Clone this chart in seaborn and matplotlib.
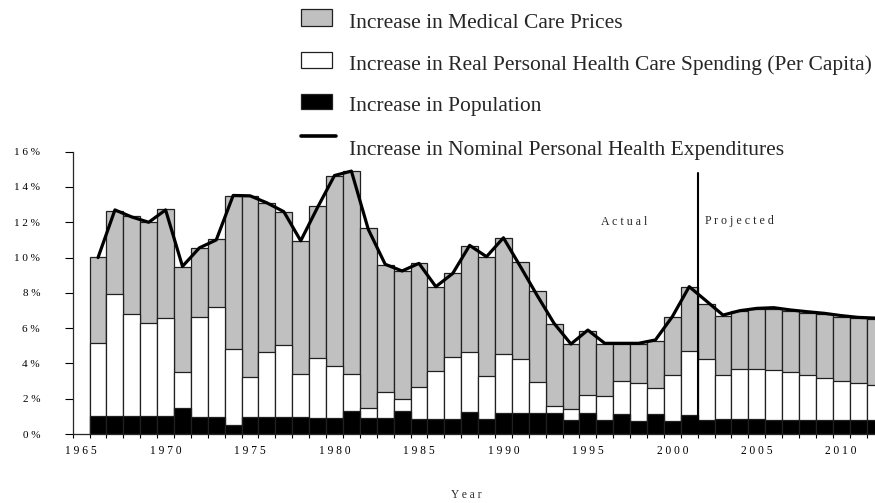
import matplotlib
matplotlib.use("Agg")
import matplotlib.pyplot as plt
import pandas as pd
import seaborn as sns
from matplotlib.patches import Rectangle
from matplotlib.lines import Line2D

years = list(range(1966, 2013))
population = [1.02, 1.02, 1.00, 1.00, 1.00, 1.45, 0.94, 0.94, 0.51, 0.94,
              0.94, 0.94, 0.94, 0.89, 0.89, 1.32, 0.89, 0.89, 1.30, 0.83,
              0.83, 0.83, 1.23, 0.83, 1.21, 1.17, 1.17, 1.17, 0.79, 1.17,
              0.79, 1.11, 0.76, 1.11, 0.76, 1.08, 0.79, 0.85, 0.85, 0.85,
              0.79, 0.79, 0.79, 0.79, 0.77, 0.77, 0.77]
real_per_capita = [4.12, 6.89, 5.80, 5.31, 5.59, 2.08, 5.71, 6.27, 4.29, 2.27,
                   3.72, 4.10, 2.44, 3.40, 2.96, 2.06, 0.60, 1.47, 0.68, 1.85,
                   2.76, 3.55, 3.40, 2.47, 3.30, 3.10, 1.80, 0.44, 0.61, 1.04,
                   1.36, 1.91, 2.15, 1.52, 2.58, 3.64, 3.46, 2.47, 2.81, 2.81,
                   2.84, 2.72, 2.57, 2.40, 2.21, 2.10, 2.03]
prices = [4.91, 4.74, 5.55, 5.72, 6.14, 5.95, 3.87, 3.82, 8.68, 10.27,
          8.44, 7.54, 7.55, 8.65, 10.77, 11.54, 10.20, 7.23, 7.26, 6.99,
          4.74, 4.76, 6.02, 6.75, 6.58, 5.49, 5.13, 4.62, 3.70, 3.64,
          2.95, 2.08, 2.19, 2.66, 3.27, 3.63, 3.12, 3.38, 3.33, 3.42,
          3.45, 3.48, 3.51, 3.59, 3.67, 3.68, 3.72]
nominal = [10.0, 12.7, 12.3, 12.0, 12.7, 9.5, 10.55, 11.0, 13.52, 13.5,
           13.1, 12.6, 10.95, 12.85, 14.65, 14.9, 11.6, 9.62, 9.24, 9.67,
           8.35, 9.1, 10.69, 10.05, 11.12, 9.5, 7.85, 6.27, 5.1, 5.89,
           5.14, 5.14, 5.14, 5.33, 6.65, 8.35, 7.55, 6.74, 6.99, 7.12,
           7.16, 7.03, 6.93, 6.84, 6.71, 6.61, 6.57]

y_ticks = list(range(0, 17, 2))
x_label_years = list(range(1965, 2011, 5))
legend_labels = ["Increase in Medical Care Prices",
                 "Increase in Real Personal Health Care Spending (Per Capita)",
                 "Increase in Population",
                 "Increase in Nominal Personal Health Expenditures"]

sns.set_style("ticks")
plt.rcParams["font.family"] = ["Liberation Serif", "DejaVu Serif"]

df = pd.DataFrame({"year": years, "pop": population, "real": real_per_capita,
                   "price": prices, "nominal": nominal})
df["top_real"] = df["pop"] + df["real"]
df["top_price"] = df["top_real"] + df["price"]

W, H = 875, 503
fig = plt.figure(figsize=(W / 100, H / 100), dpi=100)
ax = fig.add_axes([72.7 / W, (H - 434) / H, (W - 72.7) / W, (434 - 151.7) / H])

for col, color in [("top_price", "#c0c0c0"), ("top_real", "white"), ("pop", "black")]:
    sns.barplot(data=df, x="year", y=col, native_scale=True, width=1.0, color=color,
                saturation=1, edgecolor="#202020", linewidth=0.9, errorbar=None, ax=ax)
sns.lineplot(data=df, x="year", y="nominal", color="black", linewidth=2.3, ax=ax)

# Actual / Projected divider
ax.plot([2001.5, 2001.5], [0, 14.8], color="black", lw=1.5)
ax.text(1997.17, 12.0, " ".join("Actual"), ha="center", va="center", fontsize=8.6)
ax.text(2004.0, 12.1, " ".join("Projected"), ha="center", va="center", fontsize=8.6)

ax.set_xlim(1964.5, 2012.0)
ax.set_ylim(0, 16)
sns.despine(ax=ax)
ax.spines["left"].set_linewidth(0.9)
ax.spines["bottom"].set_linewidth(0.9)

# tick marks at category boundaries, labels at category centres
ax.set_xticks([y + 0.5 for y in range(1964, 2012)])
ax.set_xticklabels([])
ax.set_xticks(x_label_years, minor=True)
ax.set_xticklabels([" ".join(str(y)) for y in x_label_years], minor=True, fontsize=8.3)
ax.tick_params(axis="x", which="major", direction="out", length=3.2, width=0.8, colors="black")
ax.tick_params(axis="x", which="minor", length=0, pad=8, colors="black")
ax.set_yticks(y_ticks)
ax.set_yticklabels([" ".join(str(v)) + " %" for v in y_ticks], fontsize=8)
ax.tick_params(axis="y", which="major", direction="out", length=5.5, width=0.8, pad=18, colors="black")
ax.tick_params(axis="y", which="minor", length=0)
ax.set_ylabel("")
ax.set_xlabel(" ".join("Year"), fontsize=8.3)
ax.xaxis.set_label_coords((466 - 72.7) / (W - 72.7), (434 - 495) / (434 - 151.7))
ax.xaxis.label.set_va("center")

# Legend (manual, figure coordinates)
def fx(x):
    return x / W

def fy(y):
    return 1 - y / H

for (y0, y1), fc in [((9.5, 25.5), "#c0c0c0"), ((51.5, 67.5), "white"), ((93.5, 109), "black")]:
    fig.add_artist(Rectangle((fx(301), fy(y1)), fx(331.5) - fx(301), fy(y0) - fy(y1),
                             transform=fig.transFigure, facecolor=fc,
                             edgecolor="#202020", linewidth=0.9))
fig.add_artist(Line2D([fx(301), fx(336)], [fy(136), fy(136)], transform=fig.transFigure,
                      color="black", lw=2.6))
for yy, lab in zip([23, 65, 106.5, 150.5], legend_labels):
    fig.text(fx(349), fy(yy), lab, ha="left", va="center", fontsize=15.5)

fig.savefig("out.png", dpi=100)
